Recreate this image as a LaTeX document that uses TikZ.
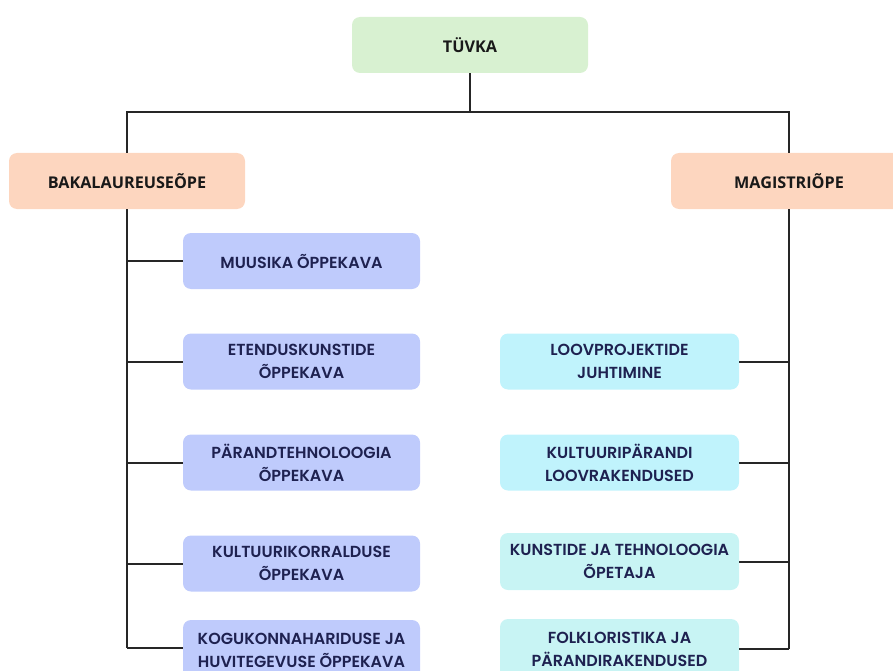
\documentclass[tikz,border=0pt]{standalone}
\usepackage{fontspec}
\setmainfont{Open Sans}
\newfontfamily\boxfont{Poppins}[UprightFont=* SemiBold, BoldFont=* Bold]
\usetikzlibrary{positioning}
\definecolor{topgreen}{HTML}{D8F1D1}
\definecolor{peach}{HTML}{FDD6BF}
\definecolor{lav}{HTML}{BFCBFC}
\definecolor{cyanA}{HTML}{C0F3FC}
\definecolor{cyanB}{HTML}{C8F4F4}
\definecolor{navy}{HTML}{1E2150}
\begin{document}
\begin{tikzpicture}[x=1pt,y=-1pt,
  headbox/.style={rounded corners=8pt, inner sep=0pt, minimum width=236pt, minimum height=56pt,
     font=\fontsize{16.2}{18}\selectfont\bfseries, text=black!90},
  progbox/.style={rounded corners=8pt, inner sep=0pt, minimum width=237pt, minimum height=56pt,
     align=center, font=\boxfont\fontsize{16}{23}\selectfont, text=navy},
  conn/.style={line width=2pt, black!85}]
\useasboundingbox (0,0) rectangle (893,671);
\node[headbox, fill=topgreen] (top) at (470,45) {TÜVKA};
\node[headbox, fill=peach] (bak) at (127,181) {BAKALAUREUSEÕPE};
\node[headbox, fill=peach] (mag) at (789,181) {MAGISTRIÕPE};
\node[progbox, fill=lav] (l1) at (301.5,261) {MUUSIKA ÕPPEKAVA};
\node[progbox, fill=lav] (l2) at (301.5,361.5) {ETENDUSKUNSTIDE\\ÕPPEKAVA};
\node[progbox, fill=lav] (l3) at (301.5,462.5) {PÄRANDTEHNOLOOGIA\\ÕPPEKAVA};
\node[progbox, fill=lav] (l4) at (301.5,563.5) {KULTUURIKORRALDUSE\\ÕPPEKAVA};
\node[progbox, fill=lav, minimum height=60pt] (l5) at (301.5,650) {KOGUKONNAHARIDUSE JA\\HUVITEGEVUSE ÕPPEKAVA};
\node[progbox, fill=cyanA, minimum width=239pt] (r1) at (619.5,361.5) {LOOVPROJEKTIDE\\JUHTIMINE};
\node[progbox, fill=cyanA, minimum width=239pt] (r2) at (619.5,462.5) {KULTUURIPÄRANDI\\LOOVRAKENDUSED};
\node[progbox, fill=cyanB, minimum width=239pt, minimum height=57pt] (r3) at (619.5,561.5) {KUNSTIDE JA TEHNOLOOGIA\\ÕPETAJA};
\node[progbox, fill=cyanB, minimum width=239pt, minimum height=61pt] (r4) at (619.5,649.5) {FOLKLORISTIKA JA\\PÄRANDIRAKENDUSED};
\coordinate (hub) at (470,112);
\coordinate (lt) at (127,648);
\coordinate (rt) at (789,649);
\draw[conn] (top.south) -- (hub);
\draw[conn] (bak.north) |- (hub) -| (mag.north);
\draw[conn] (bak.south) -- (lt);
\draw[conn] (mag.south) -- (rt);
\foreach \n in {l1,l2,l3,l4}{\draw[conn] (\n.west) -- (\n.west -| bak.south);}
\draw[conn] (lt) -- (lt -| l5.west);
\foreach \n in {r1,r2,r3}{\draw[conn] (\n.east) -- (\n.east -| mag.south);}
\draw[conn] (rt) -- (rt -| r4.east);
\end{tikzpicture}
\end{document}
